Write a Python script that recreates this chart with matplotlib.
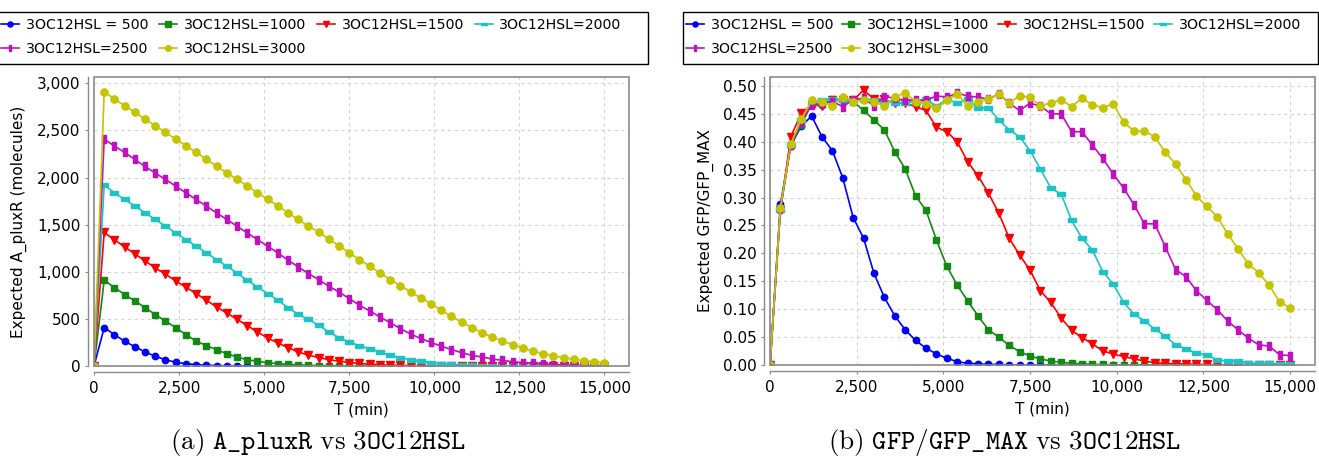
import matplotlib.pyplot as plt
from matplotlib.patches import Rectangle
from matplotlib.lines import Line2D
from matplotlib.ticker import FuncFormatter
import numpy as np

plt.rcParams['mathtext.fontset'] = 'cm'

# time grid (min), one sample every 300 min
t = list(range(0, 15001, 300))

labels = ['3OC12HSL = 500', '3OC12HSL=1000', '3OC12HSL=1500',
          '3OC12HSL=2000', '3OC12HSL=2500', '3OC12HSL=3000']

# (a) expected A_pluxR (molecules)
pluxr_500 = [0, 407, 333, 262, 205, 149, 103, 67, 39, 25, 14, 8, 5, 3, 2, 1, 1,
             0, 0, 0, 0, 0, 0, 0, 0, 0, 0, 0, 0, 0, 0, 0, 0, 0, 0, 0, 0, 0, 0, 0,
             0, 0, 0, 0, 0, 0, 0, 0, 0, 0, 0]
pluxr_1000 = [0, 910, 832, 758, 691, 620, 545, 478, 407, 333, 266, 216, 174, 131, 96,
              67, 50, 35, 25, 17, 12, 8, 5, 3, 2, 1, 1, 0, 0, 0, 0, 0, 0, 0, 0, 0,
              0, 0, 0, 0, 0, 0, 0, 0, 0, 0, 0, 0, 0, 0, 0]
pluxr_1500 = [0, 1417, 1339, 1264, 1190, 1116, 1041, 974, 903, 836, 769, 698, 627, 563,
              496, 429, 361, 298, 244, 195, 149, 115, 90, 68, 50, 37, 27, 19, 13, 9, 6,
              4, 3, 2, 1, 1, 0, 0, 0, 0, 0, 0, 0, 0, 0, 0, 0, 0, 0, 0, 0]
pluxr_2000 = [0, 1920, 1838, 1767, 1697, 1626, 1555, 1484, 1413, 1342, 1272, 1201, 1130,
              1059, 988, 910, 839, 769, 698, 620, 549, 495, 432, 361, 300, 255, 216, 184,
              149, 113, 88, 67, 50, 35, 25, 18, 12, 8, 5, 3, 2, 1, 0, 0, 0, 0, 0, 0,
              0, 0, 0]
pluxr_2500 = [0, 2408, 2334, 2267, 2192, 2118, 2047, 1980, 1909, 1838, 1767, 1697, 1626,
              1555, 1484, 1413, 1342, 1272, 1201, 1123, 1052, 981, 917, 846, 786, 715,
              645, 584, 521, 460, 397, 340, 292, 250, 212, 174, 142, 113, 96, 74, 60, 46,
              35, 28, 20, 15, 11, 8, 6, 4, 3]
pluxr_3000 = [0, 2911, 2833, 2763, 2692, 2621, 2550, 2479, 2408, 2338, 2267, 2196, 2118,
              2051, 1980, 1913, 1838, 1771, 1700, 1626, 1555, 1484, 1424, 1346, 1275,
              1201, 1130, 1059, 988, 917, 854, 786, 722, 662, 592, 528, 467, 407, 354,
              308, 266, 227, 191, 156, 131, 106, 89, 71, 57, 46, 35]

# (b) expected GFP/GFP_MAX
gfp_500 = [0, 0.288, 0.393, 0.428, 0.446, 0.409, 0.384, 0.335, 0.264, 0.227, 0.164,
           0.121, 0.088, 0.063, 0.044, 0.030, 0.020, 0.012, 0.006, 0.003, 0.002, 0.001,
           0.001, 0, 0, 0, 0, 0, 0, 0, 0, 0, 0, 0, 0, 0, 0, 0, 0, 0, 0, 0, 0, 0, 0,
           0, 0, 0, 0, 0, 0]
gfp_1000 = [0, 0.281, 0.394, 0.430, 0.468, 0.467, 0.476, 0.476, 0.472, 0.456, 0.439,
            0.421, 0.382, 0.351, 0.303, 0.277, 0.224, 0.177, 0.143, 0.115, 0.088, 0.063,
            0.050, 0.035, 0.024, 0.016, 0.011, 0.007, 0.005, 0.003, 0.002, 0.001, 0.001,
            0, 0, 0, 0, 0, 0, 0, 0, 0, 0, 0, 0, 0, 0, 0, 0, 0, 0]
gfp_1500 = [0, 0.278, 0.409, 0.451, 0.466, 0.464, 0.475, 0.474, 0.474, 0.493, 0.476,
            0.476, 0.469, 0.469, 0.463, 0.456, 0.426, 0.418, 0.400, 0.364, 0.339, 0.308,
            0.272, 0.227, 0.197, 0.170, 0.133, 0.112, 0.084, 0.062, 0.049, 0.038, 0.025,
            0.020, 0.015, 0.011, 0.007, 0.004, 0.003, 0.002, 0.002, 0.001, 0.001, 0, 0,
            0, 0, 0, 0, 0, 0]
gfp_2000 = [0, 0.278, 0.394, 0.439, 0.469, 0.474, 0.476, 0.474, 0.474, 0.475, 0.474,
            0.472, 0.470, 0.470, 0.472, 0.476, 0.464, 0.476, 0.469, 0.476, 0.460, 0.461,
            0.439, 0.421, 0.409, 0.384, 0.351, 0.317, 0.306, 0.259, 0.227, 0.206, 0.167,
            0.145, 0.112, 0.091, 0.079, 0.064, 0.052, 0.036, 0.029, 0.021, 0.018, 0.009,
            0.007, 0.007, 0.004, 0.003, 0.003, 0.002, 0.002]
gfp_2500 = [0, 0.279, 0.395, 0.435, 0.466, 0.468, 0.472, 0.463, 0.475, 0.478, 0.464,
            0.481, 0.478, 0.474, 0.475, 0.474, 0.482, 0.480, 0.487, 0.482, 0.480, 0.476,
            0.486, 0.469, 0.456, 0.469, 0.464, 0.450, 0.450, 0.418, 0.418, 0.394, 0.370,
            0.342, 0.317, 0.287, 0.253, 0.253, 0.212, 0.171, 0.158, 0.133, 0.116, 0.099,
            0.079, 0.063, 0.048, 0.036, 0.034, 0.018, 0.017]
gfp_3000 = [0, 0.282, 0.396, 0.440, 0.474, 0.472, 0.464, 0.481, 0.472, 0.475, 0.472,
            0.464, 0.480, 0.488, 0.472, 0.468, 0.460, 0.474, 0.486, 0.464, 0.472, 0.476,
            0.486, 0.470, 0.482, 0.480, 0.464, 0.470, 0.475, 0.463, 0.478, 0.466, 0.461,
            0.468, 0.435, 0.419, 0.419, 0.409, 0.381, 0.360, 0.332, 0.303, 0.284, 0.266,
            0.235, 0.208, 0.181, 0.165, 0.143, 0.113, 0.102]

colors = ['#0000ff', '#128a12', '#ff0000', '#1ec4c4', '#c010c0', '#c4c400']
hrect = [(-1, -0.45), (1, -0.45), (1, 0.45), (-1, 0.45), (-1, -0.45)]
vrect = [(-0.45, -1), (0.45, -1), (0.45, 1), (-0.45, 1), (-0.45, -1)]
markers = ['o', 's', 'v', hrect, vrect, 'o']
msizes = [4.6, 4.6, 5.2, 5.4, 5.4, 5.2]

fig = plt.figure(figsize=(13.19, 4.57), dpi=100)
W, H = 1319, 457


def px_axes(left, right, top, bottom):
    return fig.add_axes([left / W, 1 - bottom / H, (right - left) / W, (bottom - top) / H])


def style(ax, ylim, yfmt, ylabel, ylx):
    ax.set_xlim(0, 15720)
    ax.set_ylim(*ylim)
    ax.set_xticks([0, 2500, 5000, 7500, 10000, 12500, 15000])
    ax.xaxis.set_major_formatter(FuncFormatter(lambda v, p: f'{v:,.0f}'))
    ax.yaxis.set_major_formatter(FuncFormatter(yfmt))
    ax.grid(True, color='#d4d4d4', linestyle=(0, (3, 3)), linewidth=0.8)
    ax.set_axisbelow(True)
    for s in ['top', 'right']:
        ax.spines[s].set_visible(False)
    for s in ['left', 'bottom']:
        ax.spines[s].set_position(('outward', 4.3))
        ax.spines[s].set_color('#8a8a8a')
        ax.spines[s].set_linewidth(1.0)
    ax.add_patch(Rectangle((0, 0), 1, 1, transform=ax.transAxes, fill=False,
                           edgecolor='#8a8a8a', linewidth=1.2, clip_on=False, zorder=5))
    ax.tick_params(colors='#8a8a8a', labelcolor='black', labelsize=11, length=2.5,
                   width=0.8)
    ax.tick_params(axis='y', pad=3)
    ax.tick_params(axis='x', pad=4)
    ax.set_xlabel('T (min)', fontsize=11)
    ax.xaxis.set_label_coords(0.5, -0.153)
    ax.xaxis.label.set_verticalalignment('center')
    ax.set_ylabel(ylabel, fontsize=11)
    ax.yaxis.set_label_coords(ylx, 0.5)
    ax.yaxis.label.set_verticalalignment('center')


ax1 = px_axes(94, 629, 77, 366)
series_a = [pluxr_500, pluxr_1000, pluxr_1500, pluxr_2000, pluxr_2500, pluxr_3000]
for y, c, m, ms, lab in zip(series_a, colors, markers, msizes, labels):
    ax1.plot(t, y, color=c, marker=m, markersize=ms, linewidth=1.2, label=lab)
style(ax1, (0, 3067), lambda v, p: f'{v:,.0f}', 'Expected A_pluxR (molecules)',
      (19 - 94) / 535)
ax1.set_yticks([0, 500, 1000, 1500, 2000, 2500, 3000])

ax2 = px_axes(770, 1315, 77, 365)
series_b = [gfp_500, gfp_1000, gfp_1500, gfp_2000, gfp_2500, gfp_3000]
for y, c, m, ms, lab in zip(series_b, colors, markers, msizes, labels):
    ax2.plot(t, y, color=c, marker=m, markersize=ms, linewidth=1.2, label=lab)
style(ax2, (0, 0.516), lambda v, p: f'{v:.2f}', 'Expected GFP/GFP_MAX',
      (706 - 770) / 545)
ax2.set_yticks(np.arange(0, 0.51, 0.05))

# legends, row-major order like the original, with a full-width box
handles = [Line2D([], [], color=c, marker=m, markersize=ms * 0.8, linewidth=1.2)
           for c, m, ms in zip(colors, markers, msizes)]
order = [0, 4, 1, 5, 2, 3]
for x0, x1, hx, cs in [(-2, 648, 1, 0.75), (683, 1318, 686, 0.62)]:
    fig.legend([handles[i] for i in order], [labels[i] for i in order],
               loc='upper left', bbox_to_anchor=(hx / W, 1 - 18 / H),
               ncol=4, fontsize=10.2, frameon=False, handlelength=1.3,
               handletextpad=0.45, columnspacing=cs, borderaxespad=0,
               labelspacing=0.72, borderpad=0)
    fig.patches.append(Rectangle((x0 / W, 1 - 64 / H), (x1 - x0) / W, 52 / H,
                                 transform=fig.transFigure, fill=False,
                                 edgecolor='black', linewidth=1.0))

fig.text(318 / W, 1 - 442 / H,
         r'$\mathrm{(a)\ }\mathtt{A\_pluxR}\mathrm{\ vs\ }\mathtt{3OC12HSL}$',
         ha='center', va='center', fontsize=19.5)
fig.text(1005 / W, 1 - 442 / H,
         r'$\mathrm{(b)\ }\mathtt{GFP/GFP\_MAX}\mathrm{\ vs\ }\mathtt{3OC12HSL}$',
         ha='center', va='center', fontsize=19.5)

fig.savefig('out.png', dpi=100)
